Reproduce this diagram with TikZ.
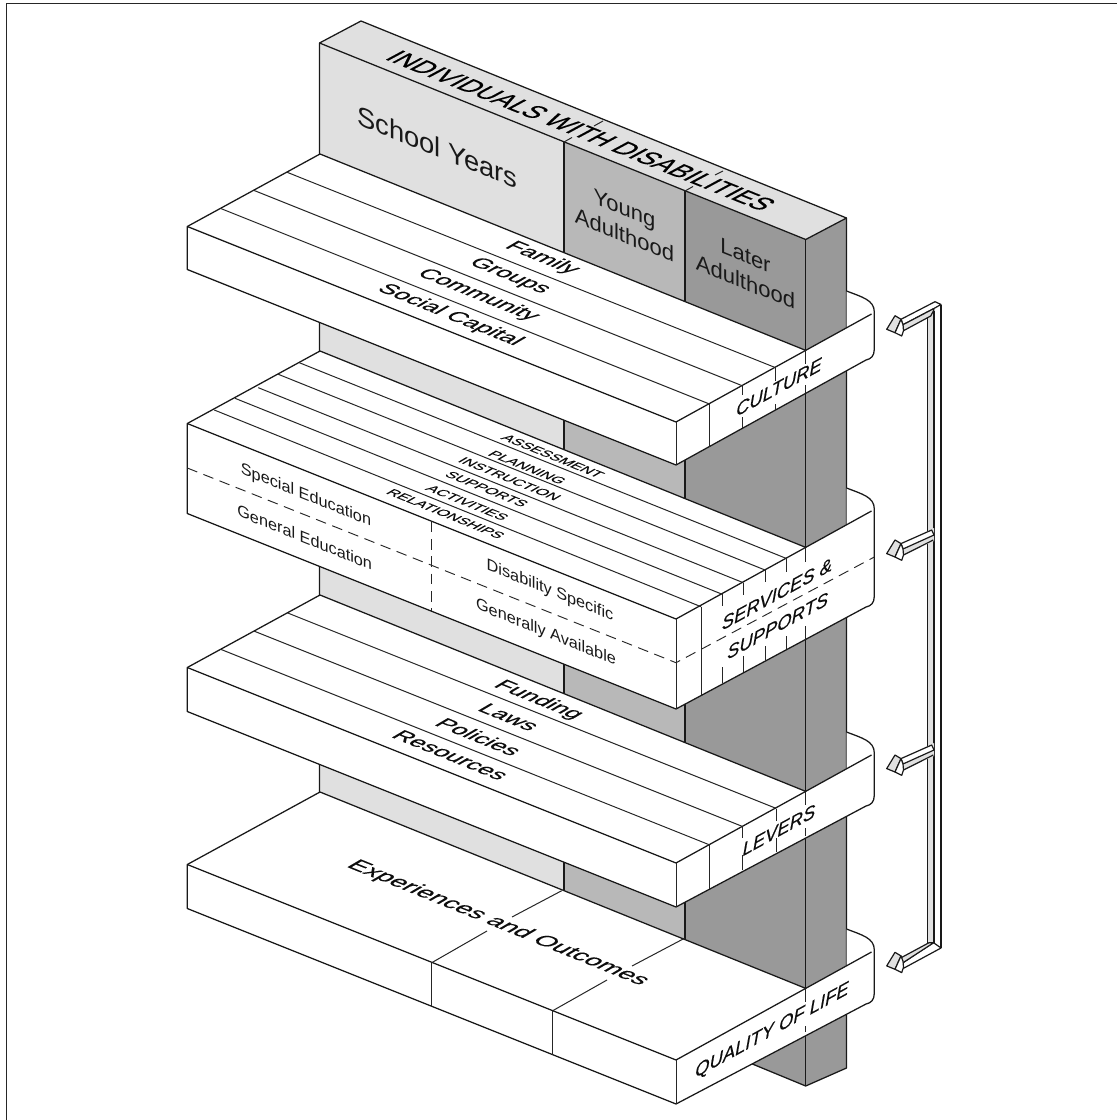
\documentclass[tikz,border=0pt]{standalone}
\usepackage{fontspec}
\setmainfont{Liberation Sans}
\newfontfamily\heavy[FakeBold=0.35]{Liberation Sans}
\newfontfamily\medw[FakeBold=0.18]{Liberation Sans}
\definecolor{wa}{gray}{0.88}
\definecolor{wb}{gray}{0.72}
\definecolor{wc}{gray}{0.60}
\tikzset{
  edge/.style={draw=black!90,line width=0.95pt,line join=round},
  thin edge/.style={draw=black!85,line width=0.75pt},
  dashline/.style={draw=black!85,line width=0.7pt,dash pattern=on 8pt off 5pt},
  wall lab/.style={inner sep=0pt,transform shape,cm={1,-0.404,0,1,(0,0)},text=black!90,align=center},
  top lab/.style={inner sep=0pt,transform shape,cm={1,-0.404,0.8,0.47,(0,0)},text=black!95},
  band lab/.style={inner sep=0pt,transform shape,cm={1,0.55,0,1,(0,0)},text=black!95,font=\heavy\itshape\fontsize{13.8pt}{16pt}\selectfont},
  shelf text/.style={top lab,font=\medw\fontsize{17pt}{19pt}\selectfont},
  small text/.style={top lab,font=\medw\fontsize{10.7pt}{12pt}\selectfont},
  face text/.style={wall lab,font=\fontsize{12.2pt}{14pt}\selectfont},
  bar face/.style={draw=black!90,line width=0.9pt,line join=round}
}
\newcommand{\shelf}[4]{%
 % #1 y of back-left corner at x=320; #2 thickness; #3 y where the loop leaves the column; #4 y of the lower end of the right side
 \fill[white] (187.3,#1+72.5) -- (320,#1) -- (806,#1+196.5) -- (846.5,#1+174) -- (846.5,#3)
    .. controls (862,#3+6) and (874.3,#3+9) .. (874.3,#3+21)
    -- (874.3,#4) .. controls (874.3,#4+7) and (871,#4+10) .. (866,#4+11)
    -- (676,#1+268+#2) -- (187.3,#1+72.5+#2) -- cycle;
 \draw[edge] (846.5,#3) .. controls (862,#3+6) and (874.3,#3+9) .. (874.3,#3+21)
    -- (874.3,#4) .. controls (874.3,#4+7) and (871,#4+10) .. (866,#4+11)
    -- (676,#1+268+#2) -- (187.3,#1+72.5+#2) -- (187.3,#1+72.5) -- (320,#1);
 \draw[edge] (187.3,#1+72.5) -- (676,#1+268) -- (871.5,#1+160);
 \draw[edge] (320,#1) -- (806,#1+196.5);
 \draw[thin edge] (676,#1+268) -- (676,#1+268+#2);
}
\newcommand{\arrowhead}[2]{%
 \begin{scope}[shift={(895,#1)}]
 #2
 \path[fill=wa,bar face] (0,0) -- (-8.3,13.6) -- (0,17) -- (6,3.6) -- cycle;
 \path[fill=white,bar face] (6,3.6) -- (8,9) -- (8.5,15) -- (6.7,20.3) -- (0,17) -- cycle;
 \end{scope}}
\begin{document}
\begin{tikzpicture}[x=0.75pt,y=-0.75pt]
\useasboundingbox (0,0) rectangle (1117,1120);
\fill[white] (0,0) rectangle (1117,1120);
% frame
\draw[line width=1.3pt,draw=black!85] (6.5,1120) -- (6.5,3.5) -- (1117,3.5);

% wall and column
\path[fill=wa] (319.5,43) -- (564,142) -- (564,988) -- (319.5,889) -- cycle;
\path[fill=wb] (564,142) -- (685,191) -- (685,1037) -- (564,988) -- cycle;
\path[fill=wc] (685,191) -- (805.7,239.5) -- (805.7,1086) -- (685,1037) -- cycle;
\path[fill=wc] (805.7,239.5) -- (846.5,218) -- (846.5,1068) -- (805.7,1086) -- cycle;
\path[fill=wa] (319.5,43) -- (361,21) -- (846.5,218) -- (805.7,239.5) -- cycle;
\draw[edge] (319.5,889) -- (319.5,43) -- (361,21) -- (846.5,218) -- (846.5,1068) -- (805.7,1086) -- (750,1063);
\draw[edge] (319.5,43) -- (805.7,239.5) -- (846.5,218);
\draw[edge] (805.7,239.5) -- (805.7,1086);
\draw[edge] (564,142) -- (564,900);
\draw[edge] (685,191) -- (685,1000);
\draw[thin edge] (564,142) -- (572,137.5) (594,126) -- (603,121);
\draw[thin edge] (685,191) -- (693,186.5) (715,175) -- (723,171);

% shelves
\shelf{154}{43}{291}{349}
\shelf{351}{90}{488}{596}
\shelf{595}{44}{732}{795}
\shelf{792}{44}{929}{993}

% shelf 1 detail
\foreach \i in {1,2,3}{
  \draw[thin edge] ({187.3+\i*33.2},{226.5-\i*18.1}) -- ({676+\i*33.2},{422-\i*18.1});
}
\draw[thin edge] (709.2,404) -- (709.2,447);
\draw[thin edge] (742.4,386) -- (742.4,395) (742.4,417) -- (742.4,428);
\draw[thin edge] (775.6,368) -- (775.6,381) (775.6,404) -- (775.6,410);
\draw[thin edge] (805.7,350) -- (805.7,364) (805.7,385) -- (805.7,393);

% shelf 2 detail
\foreach \ax/\ay/\bx/\by in {214.3/410/701/606.7,235/398.3/722.3/594.3,258.3/387.7/743.3/582.7,278.3/374.3/765/570,299.3/362.7/786/558.3}{
  \draw[thin edge] (\ax,\ay) -- (\bx,\by);
}
\draw[thin edge] (701,606.7) -- (701,695);
\draw[thin edge] (722.3,594.3) -- (722.3,606) (722.3,667) -- (722.3,683);
\draw[thin edge] (743.3,582.7) -- (743.3,595) (743.3,656) -- (743.3,672);
\draw[thin edge] (765,570) -- (765,582) (765,646) -- (765,660);
\draw[thin edge] (786,558.3) -- (786,572) (786,636) -- (786,649);
\draw[thin edge] (805.7,547.5) -- (805.7,562) (805.7,626) -- (805.7,640);
\draw[dashline] (187.3,468) -- (676,662.7) -- (874.3,557);
\draw[dashline] (431.7,521.7) -- (431.7,611);

% shelf 3 detail
\foreach \i in {1,2,3}{
  \draw[thin edge] ({187.3+\i*33.4},{667.5-\i*18.2}) -- ({676+\i*33.4},{863-\i*18.2});
}
\draw[thin edge] (709.4,845) -- (709.4,889);
\draw[thin edge] (742.8,826.5) -- (742.8,838) (742.8,855) -- (742.8,870);
\draw[thin edge] (776.2,808.5) -- (776.2,821) (776.2,838) -- (776.2,852);
\draw[thin edge] (805.7,791.5) -- (805.7,805) (805.7,828) -- (805.7,836);

% shelf 4 detail
\draw[thin edge] (431.7,962.7) -- (487,931) (512,917) -- (561.7,890.7);
\draw[thin edge] (552.7,1010.7) -- (607,980) (632,966) -- (685,938);
\draw[thin edge] (431.7,962.7) -- (431.7,1007);
\draw[thin edge] (552.7,1010.7) -- (552.7,1055);
\draw[thin edge] (805.7,989) -- (805.7,1002) (805.7,1026) -- (805.7,1032);

% wall labels
\node[wall lab,font=\fontsize{20.5pt}{22pt}\selectfont] (school) at (437.5,147) {School Years};
\node[wall lab,font=\fontsize{16.5pt}{20pt}\selectfont] (young) at (624.5,222) {Young\\Adulthood};
\node[wall lab,font=\fontsize{16.5pt}{20pt}\selectfont] (later) at (745.5,269) {Later\\Adulthood};
\node[inner sep=0pt,transform shape,cm={1,-0.404,1.02,0.55,(0,0)},text=black,font=\heavy\fontsize{18pt}{20pt}\selectfont] (indiv) at (581,130.5) {INDIVIDUALS WITH DISABILITIES};
% shelf 1 labels
\node[shelf text] (family) at (542,258) {Family};
\node[shelf text] (groups) at (509.5,276) {Groups};
\node[shelf text] (community) at (478,295) {Community};
\node[shelf text] (capital) at (450,315) {Social Capital};
\node[band lab] (culture) at (779,387) {CULTURE};
% shelf 2 labels
\node[small text] (assess) at (552.7,456) {ASSESSMENT};
\node[small text] (plan) at (527.3,467.3) {PLANNING};
\node[small text] (instr) at (509.7,478.7) {INSTRUCTION};
\node[small text] (supp) at (486.7,489) {SUPPORTS};
\node[small text] (activ) at (467.3,502.7) {ACTIVITIES};
\node[small text] (relat) at (445.7,513.7) {RELATIONSHIPS};
\node[face text] (spec) at (306,496) {Special Education};
\node[face text] (gen) at (304.7,537.3) {General Education};
\node[face text] (disab) at (550,591) {Disability Specific};
\node[face text] (avail) at (546,633) {Generally Available};
\node[band lab] (serv) at (777,594) {SERVICES \&};
\node[band lab] (supports) at (777.7,625.7) {SUPPORTS};
% shelf 3 labels
\node[shelf text] (funding) at (538.3,700) {Funding};
\node[shelf text] (laws) at (509,717) {Laws};
\node[shelf text] (policies) at (479,736.7) {Policies};
\node[shelf text] (resources) at (450.7,755) {Resources};
\node[band lab] (levers) at (779,830) {LEVERS};
% shelf 4 labels
\node[shelf text,font=\medw\fontsize{18pt}{20pt}\selectfont] (exp) at (498,923) {Experiences and Outcomes};
\node[band lab] (qol) at (772,1031) {QUALITY OF LIFE};

% bracket
\fill[wa] (927.3,312) rectangle (934,943);
\fill[white] (934,303) rectangle (941,948);
\draw[bar face] (927.3,318) -- (927.3,943);
\draw[bar face] (934,311) -- (934,943);
\draw[bar face] (941,304.5) -- (941,948);
% arrows
\arrowhead{315.7}{
 \path[fill=white,bar face] (6,3.6) -- (40,-14) -- (46,-11.2) -- (38,-6.7) -- (8,9) -- cycle;
 \path[fill=wa,bar face] (8,9) -- (38,-6.7) -- (39,-6) -- (35.7,0.3) -- (8.5,15) -- cycle;
}
\arrowhead{540}{
 \path[fill=wa,draw=none] (6,3.6) -- (39,-12) -- (39,1) -- (8.5,15) -- cycle;
 \path[fill=white,bar face] (6,3.6) -- (36.7,-10) -- (39,-5) -- (8,9) -- cycle;
 \draw[bar face] (8.5,15) -- (38.3,0);
}
\arrowhead{755}{
 \path[fill=wa,draw=none] (6,3.6) -- (39,-12) -- (39,1) -- (8.5,15) -- cycle;
 \path[fill=white,bar face] (6,3.6) -- (36.7,-10) -- (39,-5) -- (8,9) -- cycle;
 \draw[bar face] (8.5,15) -- (38.3,0);
}
\arrowhead{952.3}{
 \path[fill=white,bar face] (8,10.4) -- (37.7,-9.3) -- (39,-9.3) -- (46,-4.3) -- (8.5,16) -- cycle;
 \path[fill=wa,bar face] (5,6) -- (34,-9.6) -- (38.7,-9.6) -- (8,10.4) -- cycle;
}
\end{tikzpicture}
\end{document}
